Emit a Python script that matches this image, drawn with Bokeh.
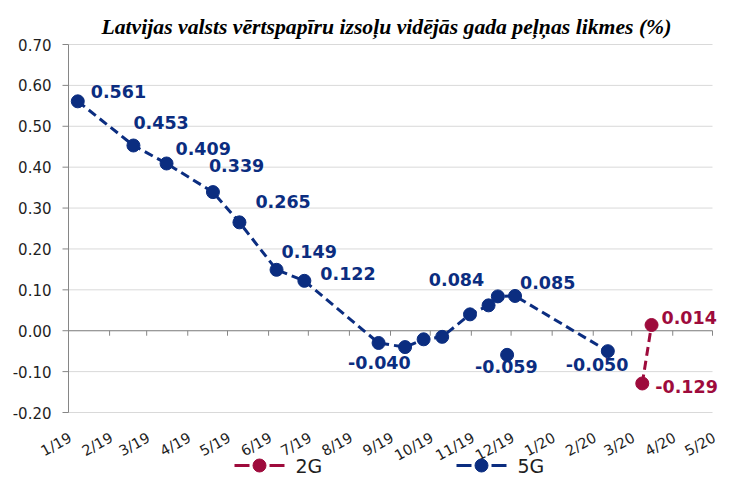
import pandas as pd
from bokeh.plotting import figure
from bokeh.core.properties import value
from bokeh.models import ColumnDataSource, Range1d, LabelSet
from bokeh.embed import file_html
from bokeh.resources import INLINE

title_text = "Latvijas valsts vērtspapīru izsoļu vidējās gada peļņas likmes  (%)"

month_starts = ["2019-01-01", "2019-02-01", "2019-03-01", "2019-04-01", "2019-05-01",
                "2019-06-01", "2019-07-01", "2019-08-01", "2019-09-01", "2019-10-01",
                "2019-11-01", "2019-12-01", "2020-01-01", "2020-02-01", "2020-03-01",
                "2020-04-01", "2020-05-01"]
month_labels = ["1/19", "2/19", "3/19", "4/19", "5/19", "6/19", "7/19", "8/19", "9/19",
                "10/19", "11/19", "12/19", "1/20", "2/20", "3/20", "4/20", "5/20"]

dates_5g = ["2019-01-08", "2019-02-19", "2019-03-16", "2019-04-20", "2019-05-10",
            "2019-06-07", "2019-06-28", "2019-08-23", "2019-09-12", "2019-09-26",
            "2019-10-10", "2019-10-31", "2019-11-14", "2019-11-21", "2019-12-04",
            "2020-02-12"]
values_5g = [0.561, 0.453, 0.409, 0.339, 0.265, 0.149, 0.122, -0.030, -0.040, -0.021,
             -0.015, 0.040, 0.062, 0.084, 0.085, -0.050]
labeled_5g = [True, True, True, True, True, True, True, False, True, False,
              False, False, False, True, True, True]

extra_5g_dates = ["2019-11-28"]
extra_5g_values = [-0.059]

dates_2g = ["2020-03-09", "2020-03-16"]
values_2g = [-0.129, 0.014]

series_names = ["2G", "5G"]

y_ticks = [-0.2, -0.1, 0.0, 0.1, 0.2, 0.3, 0.4, 0.5, 0.6, 0.7]
y_tick_labels = ["-0.20", "-0.10", "0.00", "0.10", "0.20", "0.30", "0.40", "0.50",
                 "0.60", "0.70"]

# label placement (pixels: dx right, dy down) for labeled points, in order
offsets_5g = [(13, -10), (0, -23), (9, -15), (-4, -27), (16, -21), (5, -18), (16, -7),
              (-57, 15), (-69, -17), (5, -13), (-42, 13)]
offsets_extra = [(-32, 12)]
offsets_2g = [(13, 3), (10, -7)]

BLUE = "#0B2D80"
RED = "#9E0B3C"
GRAY = "#868686"
TXT = "#1F1F1F"

# layout constants (pixels)
FIG_W, FIG_H = 727, 485
TOP_PX = 44              # from the top of the canvas to the 0.70 line
AXIS_X_PX = 68           # x of the value axis
PLOT_W_PX = 644          # width of the 1/19 .. 5/20 span
AXIS_PX = 368            # height of the -0.20 .. 0.70 span
TITLE_X, TITLE_Y = 101, 26
KEY_Y = 465              # legend row centre, from the top
KEY_X = [234, 456]       # legend key starts


def to_ms(d):
    return pd.Timestamp(d).value / 1e6


tick_ms = [to_ms(d) for d in month_starts]
ms_per_px = (tick_ms[-1] - tick_ms[0]) / PLOT_W_PX
x_start = tick_ms[0] - AXIS_X_PX * ms_per_px
x_end = x_start + FIG_W * ms_per_px
y_lo, y_hi = y_ticks[0], y_ticks[-1]
y_per_px = (y_hi - y_lo) / AXIS_PX
y_end = y_hi + TOP_PX * y_per_px
y_start = y_end - FIG_H * y_per_px
x0 = tick_ms[0]


def px_x(px):
    return x_start + px * ms_per_px


def px_y(px):
    return y_end - px * y_per_px


p = figure(width=FIG_W, height=FIG_H, x_axis_location=None, y_axis_location=None,
           x_range=Range1d(x_start, x_end), y_range=Range1d(y_start, y_end),
           output_backend="svg", toolbar_location=None,
           min_border_left=0, min_border_right=0, min_border_top=0, min_border_bottom=0)
p.outline_line_color = None
p.background_fill_color = "white"
p.xgrid.visible = False
p.ygrid.visible = False

# title
p.text(x=[x_start], y=[y_end], text=[title_text], x_offset=TITLE_X, y_offset=TITLE_Y,
       text_align="left", text_baseline="middle",
       text_font=value("Liberation Serif"), text_font_style="bold italic",
       text_font_size="21.7px", text_color="#000000")

# horizontal grid lines over the plotted span
n = len(y_ticks)
p.segment(x0=[x0] * n, x1=[tick_ms[-1]] * n, y0=y_ticks, y1=y_ticks,
          line_color="#D9D9D9", line_width=1)

# value axis: line, outward ticks, labels
p.segment(x0=[x0], x1=[x0], y0=[y_lo], y1=[y_hi], line_color=GRAY, line_width=1)
p.segment(x0=[x0 - 6 * ms_per_px] * n, x1=[x0] * n, y0=y_ticks, y1=y_ticks,
          line_color=GRAY, line_width=1)
p.text(x=[x0] * n, y=y_ticks, text=y_tick_labels, x_offset=-17,
       text_align="right", text_baseline="middle",
       text_font=value("DejaVu Sans"), text_font_size="15px", text_color=TXT)

# category axis line at zero with downward month ticks
p.segment(x0=[x0], x1=[tick_ms[-1]], y0=[0], y1=[0], line_color=GRAY, line_width=1)
p.segment(x0=tick_ms, x1=tick_ms, y0=[0] * len(tick_ms),
          y1=[-5 * y_per_px] * len(tick_ms), line_color=GRAY, line_width=1)

# month labels under the plot, rotated
p.text(x=tick_ms, y=[y_lo] * len(tick_ms), text=month_labels, angle=0.5,
       x_offset=2, y_offset=24, text_align="right", text_baseline="middle",
       text_font=value("DejaVu Sans"), text_font_size="14.5px", text_color=TXT)

# series
src5 = ColumnDataSource(dict(x=[to_ms(d) for d in dates_5g], y=values_5g))
src5x = ColumnDataSource(dict(x=[to_ms(d) for d in extra_5g_dates], y=extra_5g_values))
src2 = ColumnDataSource(dict(x=[to_ms(d) for d in dates_2g], y=values_2g))

p.line("x", "y", source=src5, line_color=BLUE, line_width=3, line_dash="9 5")
p.scatter("x", "y", source=src5, size=13, fill_color=BLUE, line_color=BLUE)
p.scatter("x", "y", source=src5x, size=13, fill_color=BLUE, line_color=BLUE)
p.line("x", "y", source=src2, line_color=RED, line_width=3, line_dash="9 5")
p.scatter("x", "y", source=src2, size=13, fill_color=RED, line_color=RED)

# data labels
lx, ly, lt, ldx, ldy, lc = [], [], [], [], [], []
k = 0
for d, v, f in zip(dates_5g, values_5g, labeled_5g):
    if f:
        lx.append(to_ms(d)); ly.append(v); lt.append(f"{v:.3f}")
        ldx.append(offsets_5g[k][0]); ldy.append(-offsets_5g[k][1]); lc.append(BLUE)
        k += 1
for (d, v), o in zip(zip(extra_5g_dates, extra_5g_values), offsets_extra):
    lx.append(to_ms(d)); ly.append(v); lt.append(f"{v:.3f}")
    ldx.append(o[0]); ldy.append(-o[1]); lc.append(BLUE)
for (d, v), o in zip(zip(dates_2g, values_2g), offsets_2g):
    lx.append(to_ms(d)); ly.append(v); lt.append(f"{v:.3f}")
    ldx.append(o[0]); ldy.append(-o[1]); lc.append(RED)

lsrc = ColumnDataSource(dict(x=lx, y=ly, t=lt, dx=ldx, dy=ldy, c=lc))
labels = LabelSet(x="x", y="y", text="t", x_offset="dx", y_offset="dy", source=lsrc,
                  text_color="c", text_font=value("DejaVu Sans"),
                  text_font_style=value("bold"), text_font_size=value("17.5px"),
                  text_align=value("left"), text_baseline=value("middle"))
p.add_layout(labels)

# legend row: "— ● —  name"
ky = px_y(KEY_Y)
for name, color, kx in zip(series_names, [RED, BLUE], KEY_X):
    p.segment(x0=[px_x(kx), px_x(kx + 35)], x1=[px_x(kx + 15), px_x(kx + 50)],
              y0=[ky, ky], y1=[ky, ky], line_color=color, line_width=3)
    p.scatter(x=[px_x(kx + 25)], y=[ky], size=13, fill_color=color, line_color=color)
    p.text(x=[px_x(kx + 61)], y=[ky], text=[name], text_align="left",
           text_baseline="middle", text_font=value("DejaVu Sans"),
           text_font_size="19px", text_color=TXT)

open("out.html", "w").write(file_html(p, INLINE))
